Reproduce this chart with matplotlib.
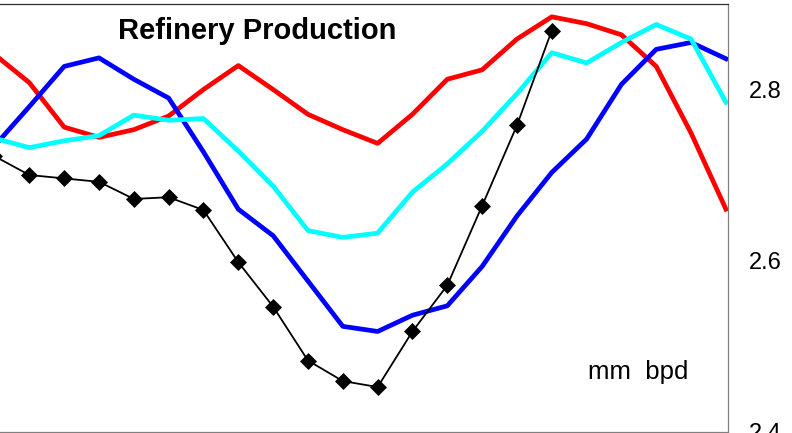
import matplotlib.pyplot as plt
import numpy as np

plt.rcParams['font.family'] = ['Liberation Sans', 'DejaVu Sans']

# monthly points, 22 in the longer series
red = [2.841, 2.808, 2.756, 2.744, 2.753, 2.769, 2.800, 2.828, 2.800, 2.771, 2.753,
       2.737, 2.771, 2.812, 2.823, 2.859, 2.885, 2.877, 2.864, 2.827, 2.749, 2.660]
blue = [2.734, 2.780, 2.827, 2.837, 2.812, 2.790, 2.727, 2.660, 2.629, 2.576, 2.523,
        2.517, 2.536, 2.547, 2.593, 2.652, 2.703, 2.742, 2.806, 2.847, 2.855, 2.836]
cyan = [2.743, 2.732, 2.740, 2.746, 2.770, 2.764, 2.766, 2.728, 2.687, 2.635, 2.627,
        2.632, 2.680, 2.713, 2.751, 2.795, 2.843, 2.831, 2.855, 2.876, 2.859, 2.785]
current = [2.722, 2.700, 2.696, 2.692, 2.672, 2.674, 2.659, 2.598, 2.546, 2.483,
           2.459, 2.452, 2.517, 2.571, 2.664, 2.758, 2.869]

fig = plt.figure(figsize=(7.92, 4.33), dpi=100)
ax = fig.add_axes([0.0, 0.00346, 0.9192, 0.9873])

x = np.arange(len(red))
ax.plot(x, red, color='#FF0000', lw=3.4, zorder=2)
ax.plot(x, blue, color='#0000FF', lw=3.4, zorder=3)
ax.plot(x, cyan, color='#00FFFF', lw=3.4, zorder=4)
ax.plot(np.arange(len(current)), current, color='black', lw=1.3, marker='D',
        ms=8.5, mew=0.5, zorder=5)

ax.set_xlim(0.158, 21.06)
ax.set_ylim(2.4, 2.9)
ax.set_xticks([])
ax.yaxis.tick_right()
ax.set_yticks([2.4, 2.6, 2.8])
ax.set_yticklabels(['2.4', '2.6', '2.8'])
ax.tick_params(axis='y', length=0, pad=15, labelsize=17)

ax.spines['left'].set_visible(False)
for side in ['right', 'bottom']:
    ax.spines[side].set_color('#808080')
    ax.spines[side].set_linewidth(0.9)
ax.spines['top'].set_color('#303030')
ax.spines['top'].set_linewidth(0.9)

ax.text(0.353, 0.937, 'Refinery Production', transform=ax.transAxes,
        ha='center', va='center', fontsize=21, fontweight='bold')
ax.text(0.876, 0.14, 'mm  bpd', transform=ax.transAxes,
        ha='center', va='center', fontsize=18.5)

fig.savefig('out.png', dpi=100)
